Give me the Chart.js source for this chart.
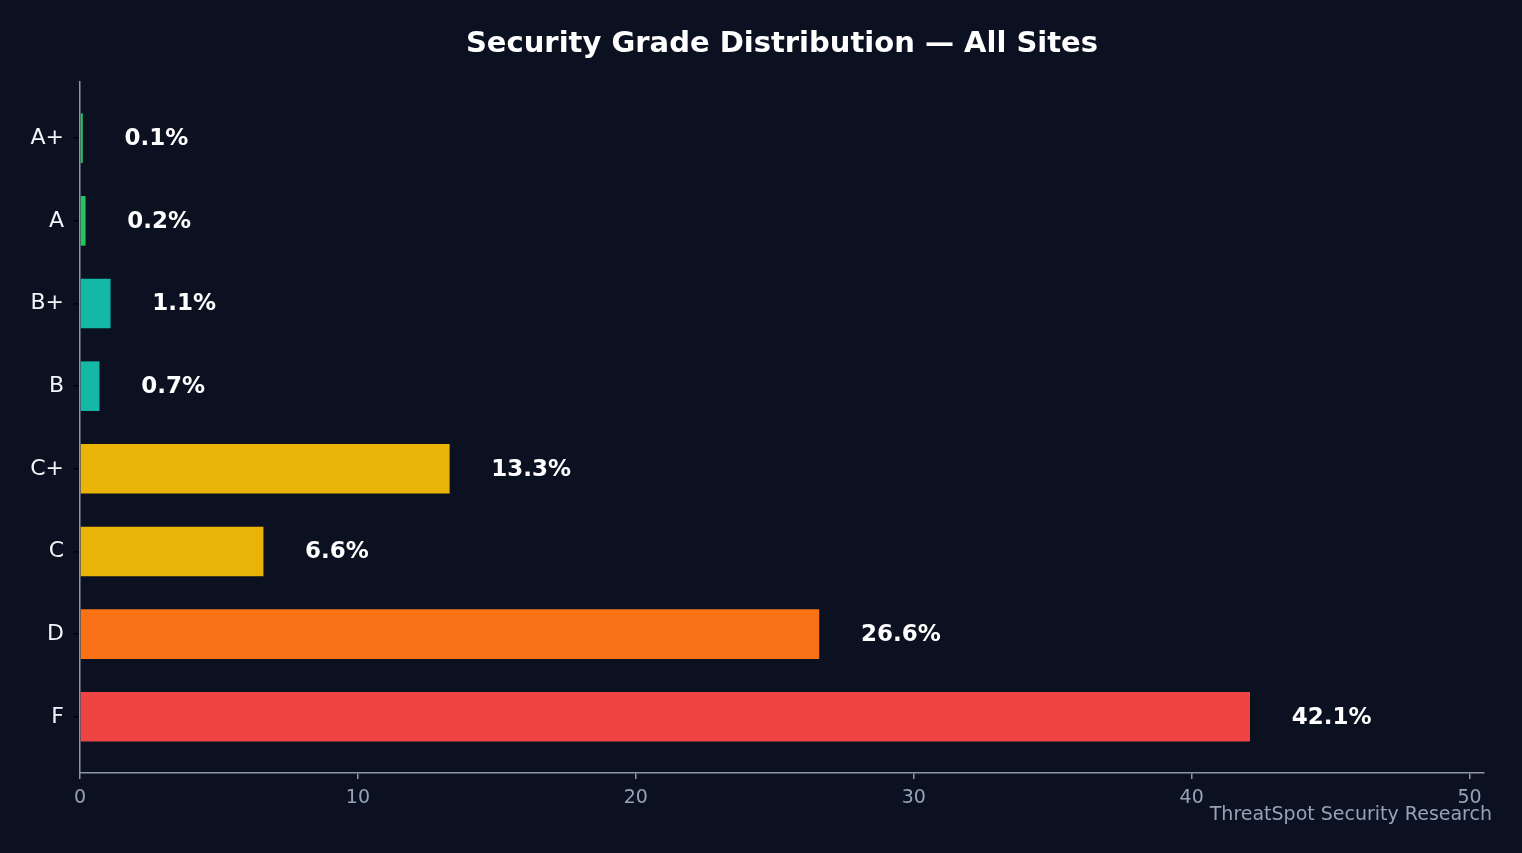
<!DOCTYPE html>
<html>
<head>
<meta charset="utf-8">
<script src="https://cdn.jsdelivr.net/npm/chart.js@4.4.1/dist/chart.umd.min.js"></script>
<style>
html,body{margin:0;padding:0;background:#0b1120;}
#wrap{width:1522px;height:853px;}
</style>
</head>
<body>
<div id="wrap"><canvas id="c" width="1522" height="853"></canvas></div>
<script>
const grades = ['A+', 'A', 'B+', 'B', 'C+', 'C', 'D', 'F'];
const percents = [0.1, 0.2, 1.1, 0.7, 13.3, 6.6, 26.6, 42.1];
const barColors = ['#22c55e', '#22c55e', '#14b8a6', '#14b8a6', '#eab308', '#eab308', '#f97316', '#ef4444'];
const xTicks = [0, 10, 20, 30, 40, 50];
const titleText = 'Security Grade Distribution \u2014 All Sites';
const footerText = 'ThreatSpot Security Research';

const FONT = "'DejaVu Sans', sans-serif";
const BG = '#0b1120';
const AXIS = '#8b95a7';

const points = percents.map((v, i) => ({ x: v, y: i }));

const bgPlugin = {
  id: 'bg',
  beforeDraw(chart) {
    const ctx = chart.ctx;
    ctx.save();
    ctx.fillStyle = BG;
    ctx.fillRect(0, 0, chart.width, chart.height);
    ctx.restore();
  }
};

const textPlugin = {
  id: 'texts',
  afterDatasetsDraw(chart) {
    const ctx = chart.ctx;
    const xs = chart.scales.x, ys = chart.scales.y;
    ctx.save();
    ctx.fillStyle = '#ffffff';
    ctx.font = 'bold 23px ' + FONT;
    ctx.textAlign = 'left';
    ctx.textBaseline = 'middle';
    percents.forEach((v, i) => {
      ctx.fillText(v.toFixed(1) + '%', xs.getPixelForValue(v + 1.5), ys.getPixelForValue(i) + 1);
    });
    ctx.restore();
  },
  afterDraw(chart) {
    const ctx = chart.ctx;
    ctx.save();
    ctx.fillStyle = '#ffffff';
    ctx.font = 'bold 29px ' + FONT;
    ctx.textAlign = 'center';
    ctx.textBaseline = 'middle';
    ctx.fillText(titleText, 782, 44);
    ctx.fillStyle = '#94a3b8';
    ctx.font = '19px ' + FONT;
    ctx.textAlign = 'right';
    ctx.textBaseline = 'alphabetic';
    ctx.fillText(footerText, 1492, 820);
    ctx.restore();
  }
};

new Chart(document.getElementById('c'), {
  type: 'bar',
  data: {
    datasets: [{
      data: points,
      backgroundColor: barColors,
      borderWidth: 0,
      categoryPercentage: 1.0,
      barPercentage: 0.6
    }]
  },
  options: {
    indexAxis: 'y',
    responsive: false,
    animation: false,
    devicePixelRatio: 1,
    layout: { padding: { top: 82, right: 38, left: 0, bottom: 0 } },
    plugins: { legend: { display: false }, tooltip: { enabled: false }, title: { display: false } },
    scales: {
      x: {
        type: 'linear',
        min: 0,
        max: 50.52,
        afterBuildTicks(scale) { scale.ticks = xTicks.map(v => ({ value: v })); },
        afterFit(scale) { scale.height = 80; },
        border: { display: true, color: AXIS, width: 1.5 },
        grid: { drawOnChartArea: false, drawTicks: true, tickLength: 6, color: AXIS, lineWidth: 1.5 },
        ticks: { color: '#94a3b8', font: { family: FONT, size: 19 }, padding: 8 }
      },
      y: {
        type: 'linear',
        reverse: true,
        offset: false,
        min: -0.68,
        max: 7.68,
        afterBuildTicks(scale) { scale.ticks = grades.map((g, i) => ({ value: i })); },
        afterFit(scale) { scale.width = 80; },
        border: { display: true, color: AXIS, width: 1.5 },
        grid: { offset: false, drawOnChartArea: false, drawTicks: true, tickLength: 6, color: '#000000', lineWidth: 1.5 },
        ticks: {
          color: '#f1f5f9',
          font: { family: FONT, size: 22 },
          padding: 10,
          callback: (v) => grades[v] !== undefined ? grades[v] : ''
        }
      }
    }
  },
  plugins: [bgPlugin, textPlugin]
});
</script>
</body>
</html>
